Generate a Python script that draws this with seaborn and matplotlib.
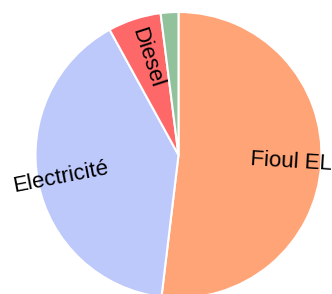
import numpy as np
import matplotlib
matplotlib.use("Agg")
import matplotlib.pyplot as plt
import seaborn as sns

# Share of energy sources (%)
labels = ['Fioul EL', 'Electricité', 'Diesel', '']
shares = [51.9, 40.1, 6.0, 2.0]
colors = ['#FFA477', '#BDC8FB', '#FF6868', '#92C29C']

sns.set_theme(style='white')
plt.rcParams['font.family'] = ['Liberation Sans', 'DejaVu Sans']

fig = plt.figure(figsize=(3.32, 2.94), dpi=100)
ax = fig.add_axes([35.5 / 332, -4 / 294, 286 / 332, 286 / 294])

wedges, _ = ax.pie(shares, colors=colors, startangle=90, counterclock=False,
                   radius=1, wedgeprops=dict(edgecolor='white', linewidth=1.5))

# radial labels, anchored half way out and running outward
for w, lab in zip(wedges, labels):
    if not lab:
        continue
    mid = np.deg2rad((w.theta1 + w.theta2) / 2)
    x, y = 0.5 * np.cos(mid), 0.5 * np.sin(mid)
    rot = np.rad2deg(mid)
    if x >= 0:
        ha = 'left'
    else:
        ha = 'right'
        rot += 180
    ax.text(x, y, lab, ha=ha, va='center', rotation=rot,
            rotation_mode='anchor', fontsize=16, color='black')

ax.set_xlim(-1, 1)
ax.set_ylim(-1, 1)
ax.set_aspect('equal')
ax.axis('off')

fig.savefig('out.png', dpi=100)
